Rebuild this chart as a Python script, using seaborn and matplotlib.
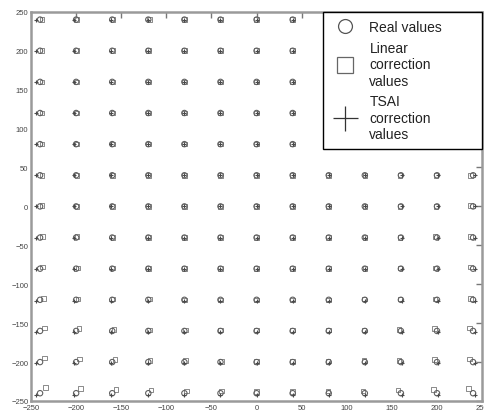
import numpy as np
import pandas as pd
import matplotlib
matplotlib.use("Agg")
import matplotlib.pyplot as plt
from matplotlib.lines import Line2D
import seaborn as sns

# grid of real target positions
x_grid = [-240, -200, -160, -120, -80, -40, 0, 40, 80, 120, 160, 200, 240]
y_grid = [240, 200, 160, 120, 80, 40, 0, -40, -80, -120, -160, -200, -240]

# residual offsets of the linear correction (rows follow y_grid, cols follow x_grid)
lin_dx = [
    [2, 1, 1, 1, 0, 0, 0, 0, 0, 0, -1, -1, -2],
    [2, 1, 1, 0, 0, 0, 0, 0, 0, 0, -1, -1, -2],
    [2, 1, 1, 0, 0, 0, 0, 0, 0, 0, -1, -1, -2],
    [2, 1, 1, 0, 0, 0, 0, 0, 0, 0, -1, -1, -2],
    [2, 1, 0, 0, 0, 0, 0, 0, 0, 0, -1, -1, -3],
    [2, 1, 0, 0, 0, 0, 0, 0, 0, 0, -1, -1, -3],
    [2, 1, 0, 0, 0, 0, 0, 0, 0, 0, -1, -1, -3],
    [3, 1, 1, 0, 0, 0, 0, 0, 0, 0, -1, -2, -3],
    [3, 2, 1, 0, 0, 0, 0, 0, 0, 0, -1, -2, -3],
    [4, 2, 1, 1, 0, 0, 0, 0, 0, -1, -1, -2, -3],
    [5, 3, 2, 1, 1, 0, 0, 0, 0, -1, -2, -3, -4],
    [5, 4, 3, 2, 1, 1, 0, 0, -1, -1, -2, -3, -4],
    [6, 5, 4, 3, 2, 1, 0, 0, -1, -2, -3, -4, -5],
]
lin_dy = [
    [0, 0, 0, 0, 0, 0, 0, 0, 0, 0, 0, 0, 0],
    [0, 0, 0, 0, 0, 0, 0, 0, 0, 0, 0, 0, 0],
    [0, 0, 0, 0, 0, 0, 0, 0, 0, 0, 0, 0, 0],
    [0, 0, 0, 0, 0, 0, 0, 0, 0, 0, 0, 0, 0],
    [0, 0, 0, 0, 0, 0, 0, 0, 0, 0, 0, 0, 0],
    [0, 0, 0, 0, 0, 0, 0, 0, 0, 0, 0, 0, 0],
    [1, 0, 0, 0, 0, 0, 0, 0, 0, 0, 0, 0, 1],
    [1, 1, 0, 0, 0, 0, 0, 0, 0, 0, 0, 1, 1],
    [2, 1, 1, 0, 0, 0, 0, 0, 0, 0, 1, 1, 2],
    [2, 1, 1, 1, 0, 0, 0, 0, 0, 1, 1, 1, 2],
    [4, 3, 2, 1, 1, 1, 1, 1, 1, 1, 2, 3, 4],
    [5, 4, 3, 2, 2, 1, 1, 1, 1, 2, 2, 3, 4],
    [7, 6, 5, 4, 3, 3, 2, 2, 3, 3, 4, 5, 6],
]
# residual offsets of the TSAI correction
tsai_dx_col = [-5, -2, -1, 0, 0, 0, 0, 0, 0, 0, 1, 1, 2]
tsai_dy_row = [0, 0, 0, 0, 0, 0, 0, 0, 0, -1, -1, -1, -2]

rows = []
for i, yv in enumerate(y_grid):
    for j, xv in enumerate(x_grid):
        rows.append(dict(x=xv, y=yv,
                         lx=xv + lin_dx[i][j], ly=yv + lin_dy[i][j],
                         tx=xv + tsai_dx_col[j], ty=yv + tsai_dy_row[i]))
df = pd.DataFrame(rows)

sns.set_style("white")
plt.rcParams['font.family'] = ['Liberation Sans', 'DejaVu Sans']

fig = plt.figure(figsize=(4.85, 4.14), dpi=100)
ax = fig.add_axes([0.064, 0.029, 0.930, 0.940])

sns.scatterplot(data=df, x='lx', y='ly', marker='s', s=11, facecolors='none',
                edgecolor='#8a8a8a', linewidth=0.7, ax=ax)
sns.scatterplot(data=df, x='x', y='y', marker='o', s=15, facecolors='none',
                edgecolor='#606060', linewidth=0.8, ax=ax)
sns.scatterplot(data=df, x='tx', y='ty', marker='+', s=12, color='#4a4a4a',
                linewidth=0.8, ax=ax)

ax.set_xlim(-250, 250)
ax.set_ylim(-250, 250)
ticks = [-250, -200, -150, -100, -50, 0, 50, 100, 150, 200, 250]
ax.set_xticks(ticks)
ax.set_yticks(ticks)
ax.set_xlabel('')
ax.set_ylabel('')
ax.tick_params(direction='in', length=4, width=1, colors='#777777',
               labelsize=5.5, labelcolor='#444444', top=True, right=True,
               pad=2)
for sp in ax.spines.values():
    sp.set_color('#9a9a9a')
    sp.set_linewidth(1.8)
    sp.set_visible(True)

handles = [
    Line2D([], [], linestyle='none', marker='o', markersize=10,
           markerfacecolor='none', markeredgecolor='#555555', markeredgewidth=0.9),
    Line2D([], [], linestyle='none', marker='s', markersize=11,
           markerfacecolor='none', markeredgecolor='#666666', markeredgewidth=0.9),
    Line2D([], [], linestyle='none', marker='+', markersize=18,
           color='#333333', markeredgewidth=0.9),
]
labels = ['Real values', 'Linear\ncorrection\nvalues', 'TSAI\ncorrection\nvalues']
leg = ax.legend(handles, labels, loc='upper right', borderaxespad=0,
                bbox_to_anchor=(0.647, 0.0, 0.353, 1.0), mode='expand',
                fancybox=False, framealpha=1, edgecolor='black',
                fontsize=10, handlelength=2.0, handletextpad=0.75,
                labelspacing=0.5, borderpad=0.6)
leg.get_frame().set_linewidth(1.0)
for t in leg.get_texts():
    t.set_color('#222222')

fig.savefig('out.png', dpi=100)
